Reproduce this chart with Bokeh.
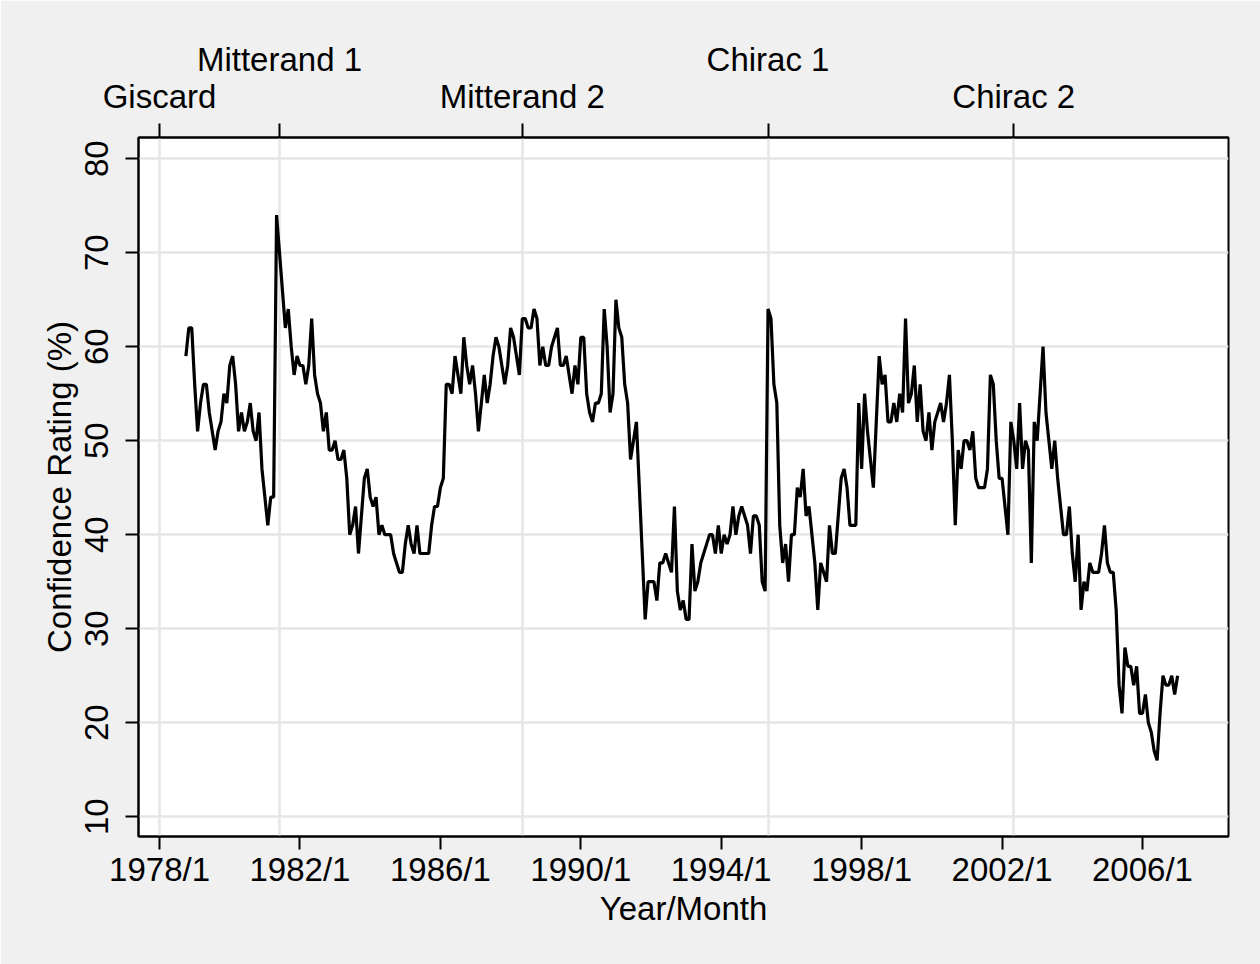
from bokeh.plotting import figure
from bokeh.models import LinearAxis, FixedTicker, Range1d
from bokeh.embed import file_html
from bokeh.resources import INLINE

# ---- data -------------------------------------------------------------
start_year, start_month = 1978, 10          # first observation: 1978/10
confidence = [
    59, 62, 62,                                              # 1978 Oct-Dec
    56, 51, 54, 56, 56, 53, 51, 49, 51, 52, 55, 54,          # 1979
    58, 59, 56, 51, 53, 51, 52, 54, 51, 50, 53, 47,          # 1980
    44, 41, 44, 44, 74, 70, 66, 62, 64, 60, 57, 59,          # 1981
    58, 58, 56, 58, 63, 57, 55, 54, 51, 53, 49, 49,          # 1982
    50, 48, 48, 49, 46, 40, 41, 43, 38, 42, 46, 47,          # 1983
    44, 43, 44, 40, 41, 40, 40, 40, 38, 37, 36, 36,          # 1984
    39, 41, 39, 38, 41, 38, 38, 38, 38, 41, 43, 43,          # 1985
    45, 46, 56, 56, 55, 59, 57, 55, 61, 58, 56, 58,          # 1986
    55, 51, 54, 57, 54, 56, 59, 61, 60, 58, 56, 58,          # 1987
    62, 61, 59, 57, 63, 63, 62, 62, 64, 63, 58, 60,          # 1988
    58, 58, 60, 61, 62, 58, 58, 59, 57, 55, 58, 56,          # 1989
    61, 61, 55, 53, 52, 54, 54, 55, 64, 60, 53, 55,          # 1990
    65, 62, 61, 56, 54, 48, 50, 52, 45, 38, 31, 35,          # 1991
    35, 35, 33, 37, 37, 38, 37, 36, 43, 34, 32, 33,          # 1992
    31, 31, 39, 34, 35, 37, 38, 39, 40, 40, 38, 41,          # 1993
    38, 40, 39, 40, 43, 40, 42, 43, 42, 41, 38, 42,          # 1994
    42, 41, 35, 34, 64, 63, 56, 54, 41, 37, 39, 35,          # 1995
    40, 40, 45, 44, 47, 42, 43, 40, 37, 32, 37, 36,          # 1996
    35, 41, 38, 38, 42, 46, 47, 45, 41, 41, 41, 54,          # 1997
    47, 55, 51, 48, 45, 52, 59, 56, 57, 52, 52, 54,          # 1998
    52, 55, 53, 63, 54, 55, 58, 52, 56, 51, 50, 53,          # 1999
    49, 52, 53, 54, 52, 54, 57, 50, 41, 49, 47, 50,          # 2000
    50, 49, 51, 46, 45, 45, 45, 47, 57, 56, 50, 46,          # 2001
    46, 43, 40, 52, 50, 47, 54, 47, 50, 49, 37, 52,          # 2002
    50, 55, 60, 53, 50, 47, 50, 46, 43, 40, 40, 43,          # 2003
    38, 35, 40, 32, 35, 34, 37, 36, 36, 36, 38, 41,          # 2004
    37, 36, 36, 32, 24, 21, 28, 26, 26, 24, 26, 21,          # 2005
    21, 23, 20, 19, 17, 16, 21, 25, 24, 24, 25, 23,          # 2006
    25,                                                      # 2007 Jan
]

tick_years = [1978, 1982, 1986, 1990, 1994, 1998, 2002, 2006]
y_ticks = [10, 20, 30, 40, 50, 60, 70, 80]

presidents = ["Giscard", "Mitterand 1", "Mitterand 2", "Chirac 1", "Chirac 2"]
pres_year = [1978, 1981, 1988, 1995, 2002]
pres_month = [1, 6, 5, 5, 5]
pres_row = [0, 1, 0, 1, 0]    # 0 = lower label row, 1 = upper label row

base_year = 1978


def month_index(y, m):
    return (y - base_year) * 12 + (m - 1)


x0 = month_index(start_year, start_month)
xs = [x0 + i for i in range(len(confidence))]

FONT = "Liberation Sans"
FS = "33px"

p = figure(width=1260, height=964, output_backend="svg", toolbar_location=None,
           x_range=Range1d(-7.2, 365.4), y_range=Range1d(7.9, 82.25),
           min_border_left=138, min_border_right=32,
           min_border_top=137, min_border_bottom=128,
           background_fill_color="white", border_fill_color="#f0f0f0",
           outline_line_color="black", outline_line_width=2)

p.line(xs, confidence, line_color="black", line_width=3.2)

# bottom axis
xa = p.xaxis[0]
xa.ticker = FixedTicker(ticks=[month_index(y, 1) for y in tick_years])
xa.major_label_overrides = {month_index(y, 1): f"{y}/1" for y in tick_years}
xa.axis_label = "Year/Month"

# left axis
ya = p.yaxis[0]
ya.ticker = FixedTicker(ticks=y_ticks)
ya.axis_label = "Confidence Rating (%)"
ya.major_label_orientation = "vertical"

for ax in (xa, ya):
    ax.major_label_text_font = FONT
    ax.major_label_text_font_size = FS
    ax.major_label_text_color = "black"
    ax.axis_label_text_font = FONT
    ax.axis_label_text_font_size = FS
    ax.axis_label_text_font_style = "normal"
    ax.axis_label_text_color = "black"
    ax.axis_line_color = "black"
    ax.axis_line_width = 2
    ax.major_tick_line_color = "black"
    ax.major_tick_line_width = 2
    ax.major_tick_out = 13
    ax.major_tick_in = 0
    ax.minor_tick_line_color = None

xa.major_label_standoff = 1
xa.axis_label_standoff = -1
ya.major_label_standoff = 17
ya.axis_label_standoff = 5

# top axes: presidencies (two staggered label rows)
pres_ticks = [month_index(y, m) for y, m in zip(pres_year, pres_month)]
lower = LinearAxis(ticker=FixedTicker(ticks=pres_ticks),
                   major_label_overrides={t: (n if r == 0 else "")
                                          for t, n, r in zip(pres_ticks, presidents, pres_row)})
upper_ticks = [t for t, r in zip(pres_ticks, pres_row) if r == 1]
upper = LinearAxis(ticker=FixedTicker(ticks=upper_ticks),
                   major_label_overrides={t: n for t, n, r in zip(pres_ticks, presidents, pres_row) if r == 1})
for ax in (lower, upper):
    ax.major_label_text_font = FONT
    ax.major_label_text_font_size = FS
    ax.major_label_text_color = "black"
    ax.minor_tick_line_color = None
lower.axis_line_color = "black"
lower.axis_line_width = 2
lower.major_tick_line_color = "black"
lower.major_tick_line_width = 2
lower.major_tick_out = 14
lower.major_tick_in = 0
lower.major_label_standoff = 9
upper.axis_line_color = None
upper.major_tick_line_color = None
upper.major_tick_out = 0
upper.major_tick_in = 0
upper.major_label_standoff = -3
p.add_layout(lower, "above")
p.add_layout(upper, "above")

# grid
p.ygrid.ticker = FixedTicker(ticks=y_ticks)
p.ygrid.grid_line_color = "#e6e6e6"
p.ygrid.grid_line_width = 2.5
p.xgrid.ticker = FixedTicker(ticks=pres_ticks)
p.xgrid.grid_line_color = "#e6e6e6"
p.xgrid.grid_line_width = 2.5

open("out.html", "w").write(file_html(p, INLINE))
